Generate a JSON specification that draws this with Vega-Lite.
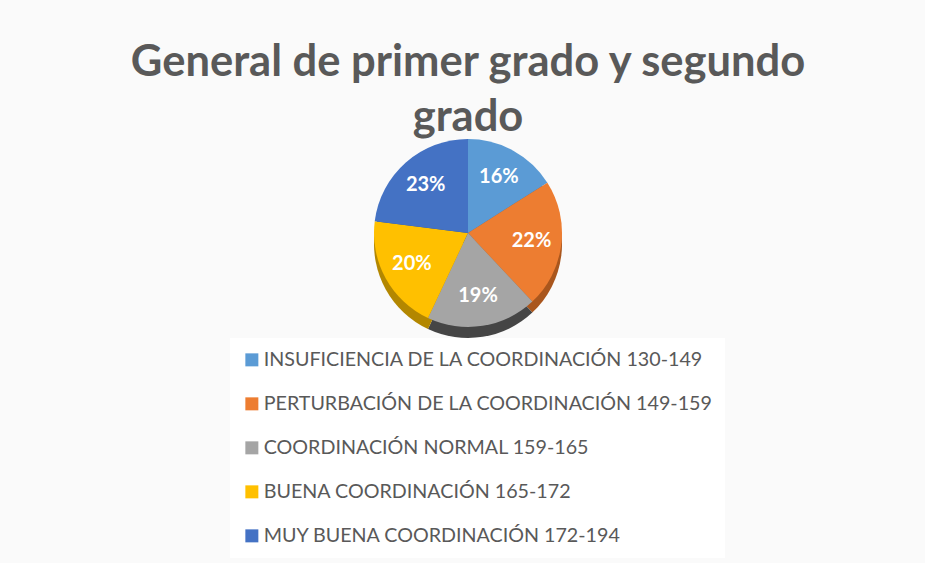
{
  "$schema": "https://vega.github.io/schema/vega-lite/v6.json",
  "width": 914,
  "height": 166,
  "autosize": "none",
  "padding": {"top": 150, "bottom": 247, "left": 11, "right": 0},
  "background": "#fafafa",
  "title": {
    "text": ["General de primer grado y segundo", "grado"],
    "font": "Lato",
    "fontSize": 43.5,
    "fontWeight": "bold",
    "lineHeight": 55,
    "color": "#595959",
    "anchor": "middle",
    "offset": -1
  },
  "data": {
    "values": [
      {"categoria": "INSUFICIENCIA DE LA COORDINACIÓN 130-149", "valor": 0.16, "orden": 1},
      {"categoria": "PERTURBACIÓN DE LA COORDINACIÓN 149-159", "valor": 0.22, "orden": 2},
      {"categoria": "COORDINACIÓN NORMAL 159-165", "valor": 0.19, "orden": 3},
      {"categoria": "BUENA COORDINACIÓN 165-172", "valor": 0.20, "orden": 4},
      {"categoria": "MUY BUENA COORDINACIÓN 172-194", "valor": 0.23, "orden": 5}
    ]
  },
  "config": {"view": {"stroke": null}},
  "layer": [
    {
      "mark": {"type": "arc", "outerRadius": 94, "yOffset": 11},
      "encoding": {
        "theta": {"field": "valor", "type": "quantitative", "stack": true},
        "order": {"field": "orden", "type": "quantitative"},
        "color": {
          "field": "categoria",
          "type": "nominal",
          "sort": {"field": "orden"},
          "scale": {
            "domain": ["INSUFICIENCIA DE LA COORDINACIÓN 130-149", "PERTURBACIÓN DE LA COORDINACIÓN 149-159", "COORDINACIÓN NORMAL 159-165", "BUENA COORDINACIÓN 165-172", "MUY BUENA COORDINACIÓN 172-194"],
            "range": ["#3b6f9e", "#a9561d", "#454545", "#b38700", "#2d4f8a"]
          },
          "legend": null
        }
      }
    },
    {
      "mark": {"type": "arc", "outerRadius": 94},
      "encoding": {
        "theta": {"field": "valor", "type": "quantitative", "stack": true},
        "order": {"field": "orden", "type": "quantitative"},
        "color": {
          "field": "categoria",
          "type": "nominal",
          "sort": {"field": "orden"},
          "scale": {
            "domain": ["INSUFICIENCIA DE LA COORDINACIÓN 130-149", "PERTURBACIÓN DE LA COORDINACIÓN 149-159", "COORDINACIÓN NORMAL 159-165", "BUENA COORDINACIÓN 165-172", "MUY BUENA COORDINACIÓN 172-194"],
            "range": ["#5b9bd5", "#ed7d31", "#a5a5a5", "#ffc000", "#4472c4"]
          },
          "legend": {
            "title": null,
            "orient": "none",
            "legendX": 219,
            "legendY": 188,
            "direction": "vertical",
            "symbolType": "square",
            "symbolSize": 169,
            "symbolStrokeWidth": 0,
            "symbolOffset": 0,
            "labelFont": "Lato",
            "labelFontSize": 19.7,
            "labelColor": "#595959",
            "labelOffset": 2,
            "labelLimit": 600,
            "rowPadding": 23,
            "fillColor": "#ffffff",
            "padding": 12
          }
        }
      }
    },
    {
      "mark": {"type": "text", "radius": 64, "font": "Lato", "fontSize": 20, "fontWeight": "bold", "color": "#ffffff"},
      "encoding": {
        "theta": {"field": "valor", "type": "quantitative", "stack": true},
        "order": {"field": "orden", "type": "quantitative"},
        "text": {"field": "valor", "type": "quantitative", "format": ".0%"}
      }
    }
  ],
  "resolve": {"scale": {"color": "independent"}}
}
